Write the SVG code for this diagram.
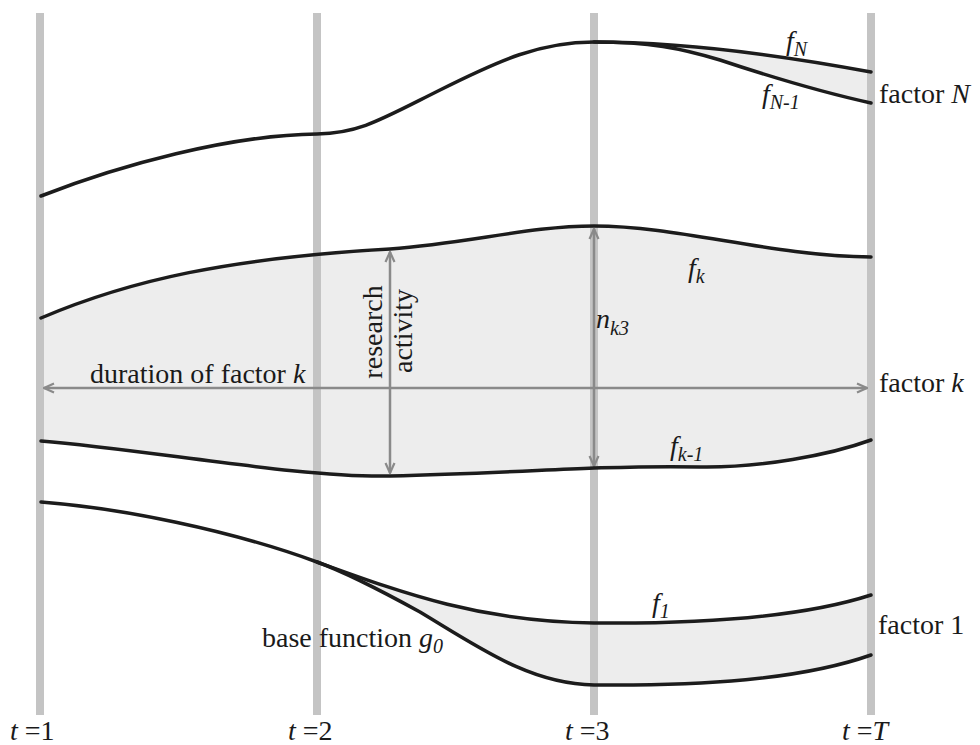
<svg xmlns="http://www.w3.org/2000/svg" width="980" height="745" viewBox="0 0 980 745">
<style>
.bar{stroke:#c4c4c4;stroke-width:8;fill:none}
.crv{stroke:#1c1c1c;stroke-width:3.5;fill:none;stroke-linecap:round}
.fill{fill:#ededed;stroke:none}
.arr{stroke:#8a8a8a;stroke-width:2.5;fill:none;marker-start:url(#ah);marker-end:url(#ah)}
text{font-size:28px;fill:#1a1a1a}
.it{font-style:italic}
.sub{font-size:20px;font-style:italic}
</style>
<defs>
<marker id="ah" viewBox="0 0 12 12" refX="11" refY="6" markerWidth="12" markerHeight="12" markerUnits="userSpaceOnUse" orient="auto-start-reverse">
<path d="M1,1.5 L11,6 L1,10.5" fill="none" stroke="#8a8a8a" stroke-width="2.2"/>
</marker>
</defs>
<g id="fills">
<path class="fill" d="M594,42 C680,42 780,55 871,72 L871,103 C830,94 780,80 720,60 C680,48 650,42 594,42 Z"/>
<path class="fill" d="M41,318 C130,280 230,258 390,249 C470,243 530,226 594,226 C680,226 770,256 871,257 L871,440 C830,455 760,468 700,467 C660,466 630,467 594,468 C540,470 480,474 390,476 C300,478 150,450 41,441 Z"/>
<path class="fill" d="M317,562 C400,592 480,622 594,623 C700,624 800,618 871,595 L871,655 C800,680 700,686 594,685 C530,684 480,648 420,612 C380,590 345,572 317,562 Z"/>
</g>
<g id="time-axes">
<line class="bar" x1="40" y1="13" x2="40" y2="715"/>
<line class="bar" x1="317" y1="13" x2="317" y2="715"/>
<line class="bar" x1="594" y1="13" x2="594" y2="715"/>
<line class="bar" x1="871" y1="13" x2="871" y2="715"/>
</g>
<g id="connectors">
<line class="arr" x1="44" y1="388" x2="867" y2="388"/>
<line class="arr" x1="390" y1="252" x2="390" y2="473"/>
<line class="arr" x1="594" y1="229" x2="594" y2="466"/>
</g>
<g id="labels" font-family="'Liberation Serif', 'Times New Roman', 'DejaVu Serif', serif">
<g id="factor-N">
<path class="crv" d="M41,196 C120,165 230,135 317,134 C360,133 380,120 440,90 C500,60 540,42 594,42 C680,42 780,55 871,72"/>
<path class="crv" d="M594,42 C650,42 680,48 720,60 C780,80 830,94 871,103"/>
<text x="786" y="50" class="it">f<tspan class="sub" dy="6">N</tspan></text>
<text x="762" y="103" class="it">f<tspan class="sub" dy="6">N-1</tspan></text>
<text x="879" y="103">factor <tspan class="it">N</tspan></text>
</g>
<g id="factor-k">
<path class="crv" d="M41,318 C130,280 230,258 390,249 C470,243 530,226 594,226 C680,226 770,256 871,257"/>
<path class="crv" d="M41,441 C150,450 300,478 390,476 C480,474 540,470 594,468 C630,467 660,466 700,467 C760,468 830,455 871,440"/>
<text x="688" y="277" class="it">f<tspan class="sub" dy="6">k</tspan></text>
<text x="670" y="455" class="it">f<tspan class="sub" dy="6">k-1</tspan></text>
<text x="596" y="328" class="it">n<tspan class="sub" dy="7">k3</tspan></text>
<text transform="translate(382,332) rotate(-90)" text-anchor="middle">research</text>
<text transform="translate(412,331) rotate(-90)" text-anchor="middle">activity</text>
<text x="90" y="383">duration of factor <tspan class="it">k</tspan></text>
<text x="879" y="392">factor <tspan class="it">k</tspan></text>
</g>
<g id="factor-1">
<path class="crv" d="M41,502 C120,508 230,530 317,562 C400,592 480,622 594,623 C700,624 800,618 871,595"/>
<path class="crv" d="M317,562 C345,572 380,590 420,612 C480,648 530,684 594,685 C700,686 800,680 871,655"/>
<text x="652" y="612" class="it">f<tspan class="sub" dy="6">1</tspan></text>
<text x="262" y="647">base function <tspan class="it">g</tspan><tspan class="sub" dy="6">0</tspan></text>
<text x="878" y="634">factor 1</text>
</g>
<g id="time-labels">
<text x="10" y="740"><tspan class="it">t</tspan> =1</text>
<text x="288" y="740"><tspan class="it">t</tspan> =2</text>
<text x="565" y="740"><tspan class="it">t</tspan> =3</text>
<text x="842" y="740"><tspan class="it">t</tspan> =<tspan class="it">T</tspan></text>
</g>
</g>
</svg>
